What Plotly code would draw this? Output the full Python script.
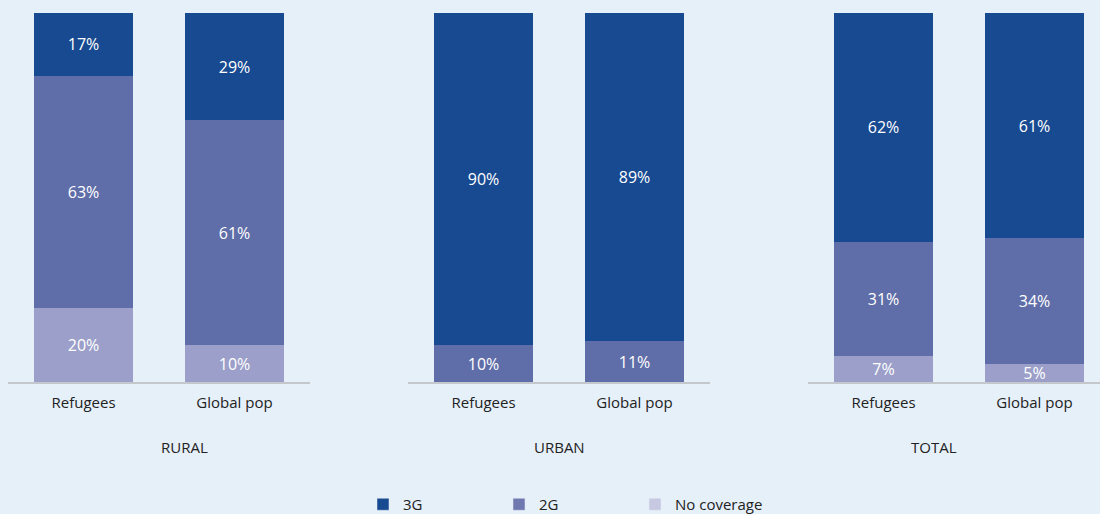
import plotly.graph_objects as go

# Coverage shares (%) per group
groups = ["Refugees", "Global pop"]
panels = ["RURAL", "URBAN", "TOTAL"]

no_coverage = {"RURAL": [20, 10], "URBAN": [0, 0], "TOTAL": [7, 5]}
cov_2g = {"RURAL": [63, 61], "URBAN": [10, 11], "TOTAL": [31, 34]}
cov_3g = {"RURAL": [17, 29], "URBAN": [90, 89], "TOTAL": [62, 61]}

series = [
    ("No coverage", no_coverage, "#9b9fc9", "#c6c9e1"),
    ("2G", cov_2g, "#5f6ea9", "#6f79b0"),
    ("3G", cov_3g, "#174a91", "#174a91"),
]

W, H = 1100, 514
# pixel spans of each panel's baseline
domains_px = [(8, 310), (408, 710), (808, 1100)]
cat_px = 151  # pixels per category

fig = go.Figure()

for i, panel in enumerate(panels):
    ax = "" if i == 0 else str(i + 1)
    for name, values, color, _ in series:
        vals = values[panel]
        fig.add_trace(go.Bar(
            x=groups,
            y=vals,
            name=name,
            marker=dict(color=color, line=dict(width=0)),
            text=[f"{v}%" if v else "" for v in vals],
            textposition="inside",
            insidetextanchor="middle",
            constraintext="none",
            textangle=0,
            textfont=dict(color="white", size=16, family="Open Sans"),
            showlegend=False,
            hoverinfo="skip",
            xaxis="x" + ax,
            yaxis="y" + ax,
        ))

# legend-only entries (legend swatches are a lighter tint than the bars)
for name, _, _, lcolor in reversed(series):
    fig.add_trace(go.Bar(
        x=[None], y=[None], name=name,
        marker=dict(color=lcolor),
        showlegend=True,
    ))

layout = dict(
    width=W,
    height=H,
    barmode="stack",
    bargap=0.34,
    paper_bgcolor="#e6f0f9",
    plot_bgcolor="#e6f0f9",
    margin=dict(l=0, r=0, t=13, b=132),
    font=dict(family="Open Sans", size=15, color="#222222"),
    legend=dict(
        orientation="h",
        x=363 / W,
        xanchor="left",
        xref="container",
        y=1 - 488 / H,
        yanchor="top",
        yref="container",
        entrywidth=91,
        traceorder="normal",
        font=dict(size=15, color="#222222"),
        itemclick=False,
    ),
    annotations=[],
)

for i, panel in enumerate(panels):
    key = "" if i == 0 else str(i + 1)
    x0, x1 = domains_px[i]
    layout["xaxis" + key] = dict(
        domain=[x0 / W, x1 / W],
        range=[-0.5, -0.5 + (x1 - x0) / cat_px],
        showline=True,
        linecolor="#c4c8cc",
        linewidth=2,
        showgrid=False,
        zeroline=False,
        ticks="",
        ticklabelstandoff=6,
        tickfont=dict(size=15, color="#222222"),
        anchor="y" + key,
        fixedrange=True,
    )
    layout["yaxis" + key] = dict(
        domain=[0, 1],
        range=[0, 100],
        visible=False,
        anchor="x" + key,
        fixedrange=True,
    )
    layout["annotations"].append(dict(
        text=panel,
        x=(x0 + 302 / 2) / W,
        xref="paper",
        y=-65 / 369,
        yref="paper",
        yanchor="middle",
        showarrow=False,
        font=dict(size=15, color="#222222"),
    ))

fig.update_layout(**layout)

fig.write_html(
    "out.html",
    config={"displayModeBar": False},
    post_script="document.body.style.margin='0';"
                "document.body.style.background='#e6f0f9';",
)
